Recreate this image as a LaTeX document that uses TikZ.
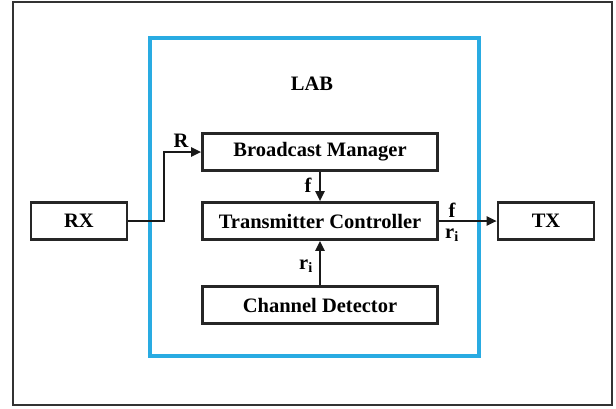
\documentclass[tikz,border=0pt]{standalone}
\usepackage{fontspec}
\setmainfont{Liberation Serif}
\usetikzlibrary{arrows.meta}
\definecolor{labblue}{RGB}{41,171,226}
\begin{document}
\begin{tikzpicture}[x=1pt,y=-1pt,
  blk/.style={draw=black!85,line width=2.6pt,minimum width=235pt,minimum height=37pt,inner sep=0pt,font=\fontsize{20.5}{24}\selectfont\bfseries},
  sblk/.style={blk,minimum width=96pt},
  lbl/.style={font=\fontsize{20.5}{24}\selectfont\bfseries,inner sep=0pt},
  conn/.style={line width=2.2pt,draw=black!90},
  arr/.style={conn,-{Triangle[length=10pt,width=9pt]}}]
\useasboundingbox (0,0) rectangle (616,408);
\fill[white] (0,0) rectangle (616,408);
\draw[line width=2.4pt,black!80] (13,2) rectangle (612,405);
\draw[line width=3.2pt,labblue] (150,38) rectangle (479,356);
\node[lbl] (lab) at (312,84) {LAB};
\node[blk] (bm) at (320,152) {Broadcast Manager};
\node[blk] (tc) at (320,221) {Transmitter Controller};
\node[blk] (cd) at (320,305) {Channel Detector};
\node[sblk] (rx) at (79,221) {RX};
\node[sblk] (tx) at (546,221) {TX};
\coordinate (k1) at (164,221);
\coordinate (k2) at (164,152);
\draw[arr] (rx.east) -- (k1) -- (k2) -- (bm.west);
\node[lbl] (lr) at (181,141) {R};
\draw[arr] (bm.south) -- (tc.north);
\node[lbl] (lf) at (308,185) {f};
\draw[arr] (tc.east) -- (tx.west);
\node[lbl] (lf2) at (452,210) {f};
\node[lbl] (lr2) at (452,235) {r$_{\mathbf{i}}$};
\draw[arr] (cd.north) -- (tc.south);
\node[lbl] (lr3) at (306,266) {r$_{\mathbf{i}}$};
\end{tikzpicture}
\end{document}
